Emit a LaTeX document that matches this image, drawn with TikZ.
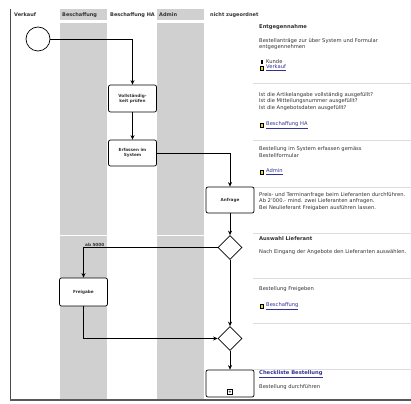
\documentclass[tikz,border=0pt]{standalone}
\usepackage{fontspec}
\setmainfont{DejaVu Sans}
\usetikzlibrary{shapes.geometric,arrows.meta}
\definecolor{lane}{RGB}{208,208,208}
\definecolor{sep}{RGB}{220,220,220}
\definecolor{linkc}{RGB}{50,50,150}
\definecolor{iconY}{RGB}{235,215,40}
\definecolor{txt}{RGB}{50,50,50}
\newcommand{\lnk}[1]{\textcolor{linkc}{\underline{#1}}}
\tikzset{
  task/.style={draw, line width=0.7pt, rounded corners=2pt, fill=white, minimum width=48pt, minimum height=27pt, inner sep=1pt, align=center, font=\fontsize{4.2}{5}\selectfont\bfseries, text=txt},
  gate/.style={draw, diamond, line width=0.7pt, fill=white, minimum size=24pt, inner sep=0pt},
  arr/.style={line width=0.8pt, -{Stealth[length=4.5pt,width=4pt]}},
  info/.style={anchor=west, inner sep=0pt, text=txt, font=\fontsize{5.2}{6}\selectfont},
  infob/.style={info, font=\fontsize{5.2}{6}\selectfont\bfseries},
  head/.style={anchor=west, inner sep=0pt, text=txt, font=\fontsize{5}{5.5}\selectfont\bfseries},
  sepl/.style={draw=sep, line width=0.6pt},
  icon/.style={inner sep=0pt, minimum width=2.8pt, minimum height=4.2pt},
}
\begin{document}
\begin{tikzpicture}[x=1pt,y=-1pt]
\useasboundingbox (0,0) rectangle (411,403);
\fill[white] (0,0) rectangle (411,403);
% lanes
\fill[lane] (60,9) rectangle (107,20);
\fill[lane] (157,9) rectangle (204,20);
\fill[lane] (60,23) rectangle (107,400);
\fill[lane] (157,23) rectangle (204,400);
\draw[white, line width=0.6pt] (60,235) -- (107,235) (157,235) -- (204,235);
% frame
\draw[line width=0.8pt, black!70] (10,9) -- (10,400);
\draw[line width=1.2pt, black!65] (10,400) -- (411,400);
% header
\node[head] (h1) at (14,15) {Verkauf};
\node[head] (h2) at (62,15) {Beschaffung};
\node[head] (h3) at (110,15) {Beschaffung HA};
\node[head] (h4) at (159,15) {Admin};
\node[head] (h5) at (210,15) {nicht zugeordnet};
% separators
\draw[sepl] (253,83) -- (411,83);
\draw[sepl] (253,140) -- (411,140);
\draw[sepl] (253,187) -- (411,187);
\draw[sepl] (253,233) -- (411,233);
\draw[sepl] (253,278) -- (411,278);
\draw[sepl] (253,323) -- (411,323);
\draw[sepl] (253,369) -- (411,369);
% flow
\node[circle, draw, line width=0.7pt, minimum size=24pt, inner sep=0pt] (start) at (38,39) {};
\node[task] (t1) at (132.5,98.5) {Vollständig-\\keit prüfen};
\node[task, minimum height=26pt] (t2) at (132.5,153) {Erfassen im\\System};
\node[task, minimum height=26pt] (t3) at (230,200) {Anfrage};
\node[gate] (g1) at (230,247.5) {};
\node[task, minimum height=28pt] (t4) at (83.5,292) {Freigabe};
\node[gate] (g2) at (230,338.5) {};
\node[task] (t5) at (230,383.5) {};
\node[draw, line width=0.6pt, minimum size=5pt, inner sep=0pt, font=\fontsize{4}{4}\selectfont\bfseries] (plus) at (230,392) {+};
\node[anchor=south west, inner sep=1pt, text=txt, font=\fontsize{4.2}{4.5}\selectfont\bfseries] (lab) at (84,247.5) {ab 5000};
\draw[arr] (start.east) -| (t1.north);
\draw[arr] (t1) -- (t2);
\draw[arr] (t2.east) -| (t3.north);
\draw[arr] (t3) -- (g1);
\draw[arr] (g1.west) -| (t4.north);
\draw[arr] (g1) -- (g2);
\draw[arr] (t4.south) |- (g2.west);
\draw[arr] (g2) -- (t5);
% info panel
\node[infob] (i1) at (259,27) {Entgegennahme};
\node[info] (i2) at (259,41) {Bestellanträge zur über System und Formular};
\node[info] (i3) at (259,47) {entgegennehmen};
\node[icon, fill=black] (k1) at (262,62) {};
\node[info] (i4) at (266,62) {Kunde};
\node[icon, fill=iconY, draw=black, line width=0.3pt] (k2) at (262,68) {};
\node[info] (i5) at (266,68) {\lnk{Verkauf}};
\node[info] (i6) at (259,95) {Ist die Artikelangabe vollständig ausgefüllt?};
\node[info] (i7) at (259,101.5) {Ist die Mitteilungsnummer ausgefüllt?};
\node[info] (i8) at (259,108) {Ist die Angebotsdaten ausgefüllt?};
\node[icon, fill=iconY, draw=black, line width=0.3pt] (k3) at (262,125) {};
\node[info] (i9) at (266,125) {\lnk{Beschaffung HA}};
\node[info] (i10) at (259,149) {Bestellung im System erfassen gemäss};
\node[info] (i11) at (259,155.5) {Bestellformular};
\node[icon, fill=iconY, draw=black, line width=0.3pt] (k4) at (262,172) {};
\node[info] (i12) at (266,172) {\lnk{Admin}};
\node[info] (i13) at (259,195) {Preis- und Terminanfrage beim Lieferanten durchführen.};
\node[info] (i14) at (259,201.5) {Ab 2'000.- mind. zwei Lieferanten anfragen.};
\node[info] (i15) at (259,208) {Bei Neulieferant Freigaben ausführen lassen.};
\node[infob] (i16) at (259,239) {Auswahl Lieferant};
\node[info] (i17) at (259,252) {Nach Eingang der Angebote den Lieferanten auswählen.};
\node[info] (i18) at (259,289) {Bestellung Freigeben};
\node[icon, fill=iconY, draw=black, line width=0.3pt] (k5) at (262,306) {};
\node[info] (i19) at (266,306) {\lnk{Beschaffung}};
\node[infob] (i20) at (259,374) {\lnk{Checkliste Bestellung}};
\node[info] (i21) at (259,387) {Bestellung durchführen};
\end{tikzpicture}
\end{document}
